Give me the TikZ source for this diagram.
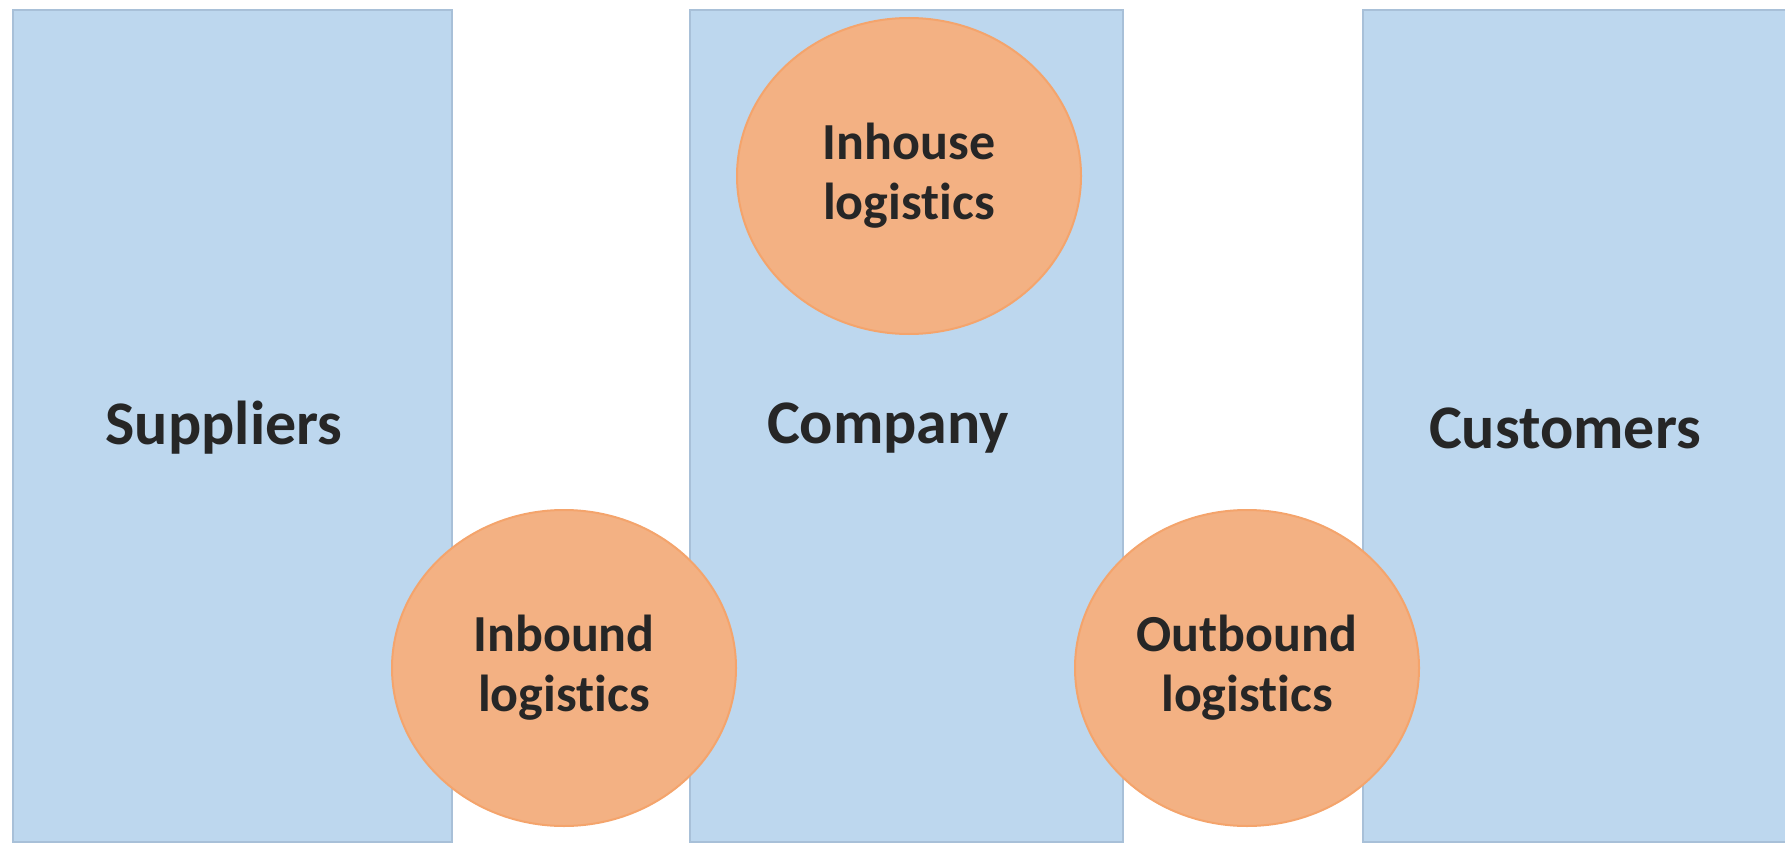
\documentclass[tikz,border=0pt]{standalone}
\usepackage{fontspec}
\setmainfont[Ligatures=NoCommon]{Carlito}
\definecolor{boxfill}{HTML}{BDD7EE}
\definecolor{boxline}{HTML}{A8C0D8}
\definecolor{circfill}{HTML}{F3B183}
\definecolor{circline}{HTML}{F4A46C}
\definecolor{txt}{HTML}{262626}
\tikzset{
  party/.style={draw=boxline, line width=2.5pt, fill=boxfill},
  partylabel/.style={font=\fontsize{62}{72}\selectfont\bfseries, text=txt},
  logi/.style={ellipse, draw=circline, line width=2pt, fill=circfill, minimum width=344pt, minimum height=316pt, inner sep=0pt,
    font=\fontsize{52}{60}\selectfont\bfseries, text=txt, align=center}
}
\usetikzlibrary{shapes.geometric}
\begin{document}
\begin{tikzpicture}[x=1pt,y=-1pt]
\useasboundingbox (0,0) rectangle (1785,845);
\fill[white] (0,0) rectangle (1785,845);
\draw[party] (13,10) rectangle (452,842);
\draw[party] (690,10) rectangle (1123,842);
\draw[party] (1363,10) rectangle (1800,842);
\node[partylabel] (sup) at (224,428) {Suppliers};
\node[partylabel] (comp) at (888,428) {Company};
\node[partylabel] (cust) at (1565,428) {Customers};
\node[logi] (inhouse) at (909,176) {Inhouse\\logistics};
\node[logi] (inbound) at (564,668) {Inbound\\logistics};
\node[logi] (outbound) at (1247,668) {Outbound\\logistics};
\end{tikzpicture}
\end{document}
